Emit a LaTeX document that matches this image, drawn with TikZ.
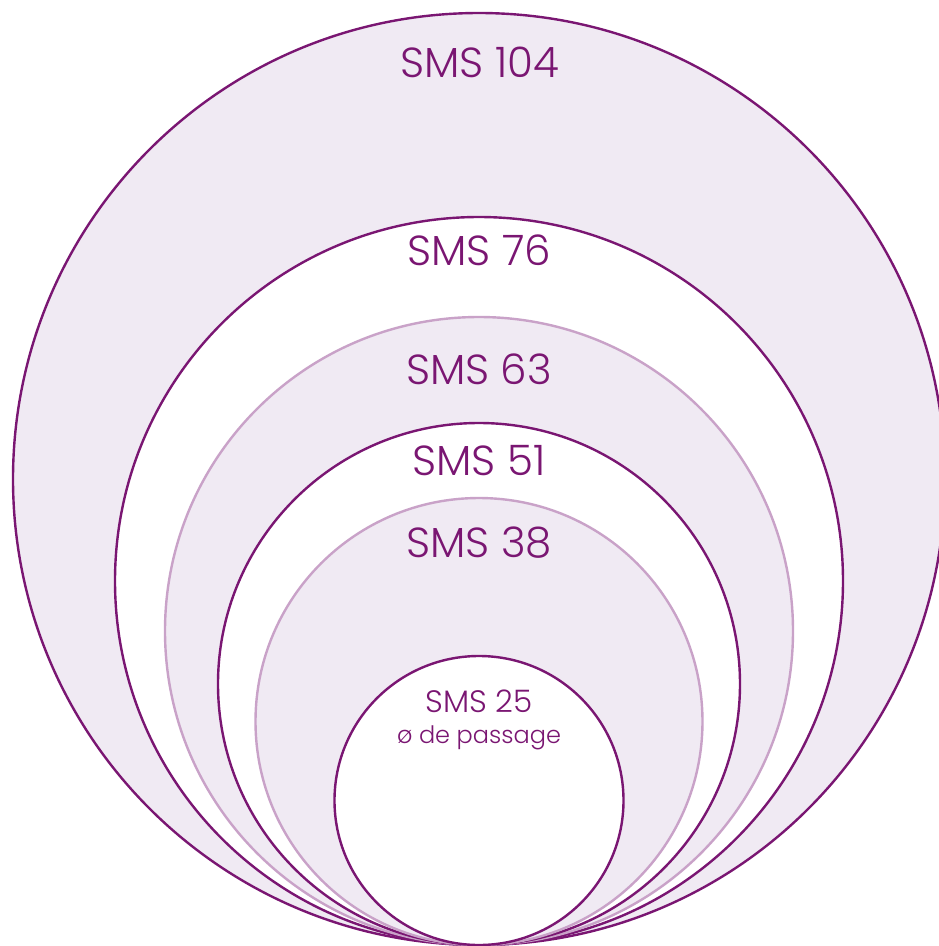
\documentclass[tikz,border=0pt]{standalone}
\usepackage{fontspec}
\setmainfont{Poppins}[UprightFont=* Light]
\usepackage{tikz}
\usetikzlibrary{positioning}

\definecolor{plum}{HTML}{7A1672}
\definecolor{lilac}{HTML}{C9A2C8}
\definecolor{mist}{HTML}{F0EAF3}

\begin{document}
\begin{tikzpicture}[x=1pt,y=1pt,
  dark ring/.style={draw=plum,line width=2.4pt},
  light ring/.style={draw=lilac,line width=2.4pt},
  size label/.style={text=plum,anchor=base,inner sep=0pt,font=\fontsize{42}{48}\selectfont},
  small label/.style={text=plum,anchor=base,inner sep=0pt,font=\fontsize{31}{36}\selectfont}]

  \useasboundingbox (0,0) rectangle (939,-946);

  % rings, all touching at the bottom
  \draw[dark ring,fill=mist]  (479,-479)   circle (466);
  \draw[dark ring,fill=white] (479,-581)   circle (364);
  \draw[light ring,fill=mist] (479,-631)   circle (314);
  \draw[dark ring,fill=white] (479,-684)   circle (261);
  \draw[light ring,fill=mist] (479,-721.5) circle (223.5);
  \draw[dark ring,fill=white] (479,-800.5) circle (144.5);

  \node[size label] (s104) at (480,-77)  {SMS 104};
  \node[size label] (s76)  at (479,-265) {SMS 76};
  \node[size label] (s63)  at (479,-384) {SMS 63};
  \node[size label] (s51)  at (479,-475) {SMS 51};
  \node[size label] (s38)  at (479,-557) {SMS 38};
  \node[small label] (s25) at (479,-712) {SMS 25};
  \node[text=plum,anchor=base,inner sep=0pt,font=\fontsize{24}{28}\selectfont]
    (pass) at (479,-743) {ø de passage};
\end{tikzpicture}
\end{document}
